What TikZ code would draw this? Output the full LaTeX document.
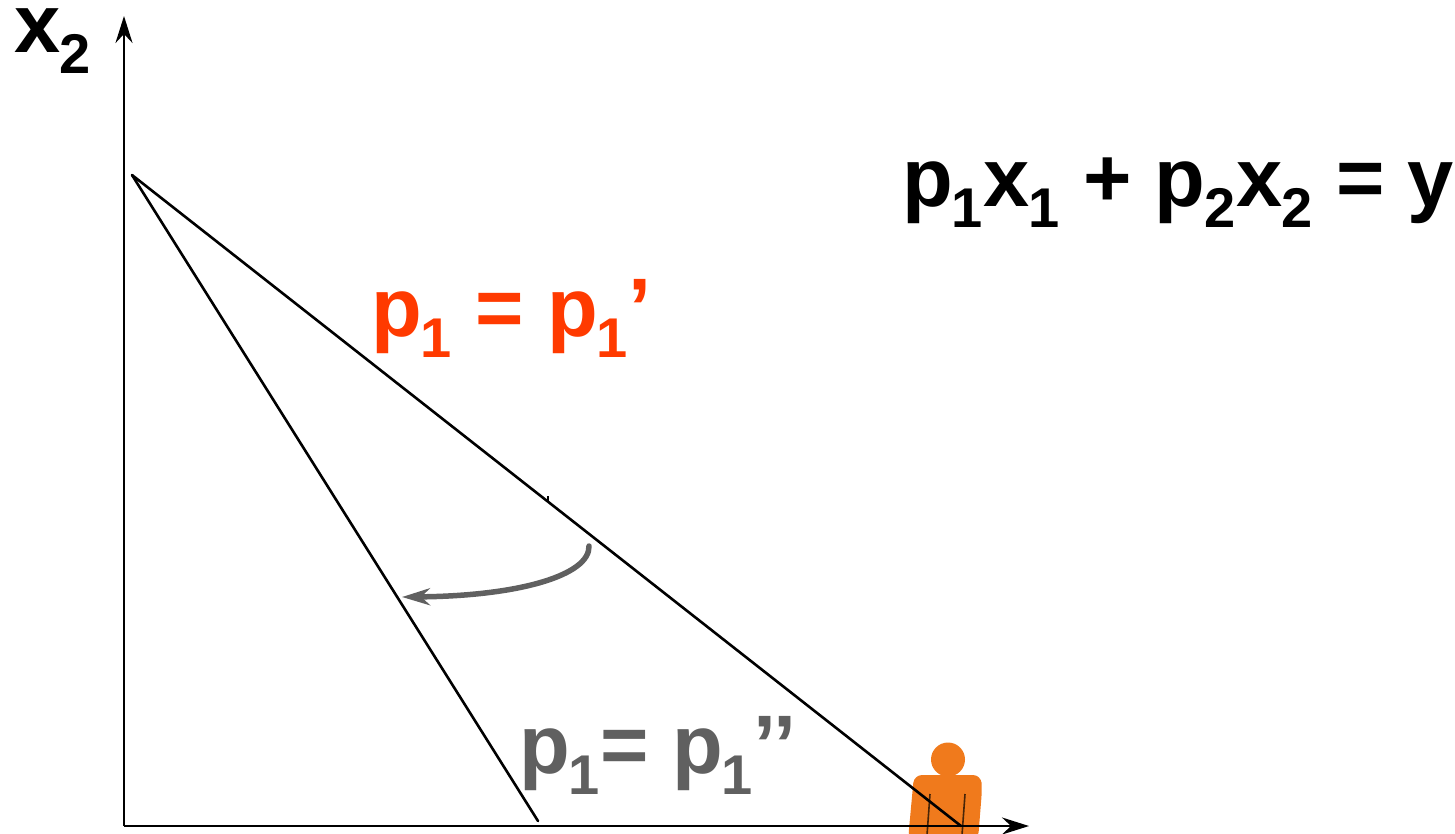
\documentclass[tikz,border=0pt]{standalone}
\usepackage{fontspec}
\setmainfont{Liberation Sans}
\usetikzlibrary{arrows.meta}
\definecolor{redorange}{RGB}{255,58,0}
\definecolor{graytxt}{RGB}{96,96,96}
\definecolor{personor}{RGB}{240,122,28}
\newcommand{\sbs}[1]{\kern-1pt\relax\raisebox{-21pt}{\fontsize{56pt}{56pt}\selectfont #1}\kern0.5pt\relax}
\tikzset{
  x=1pt,y=-1pt,
  axis/.style={line width=2.6pt,black,-{Stealth[length=27pt,width=17pt,inset=9pt]}},
  budget/.style={line width=2.6pt,black,line cap=round},
  lab/.style={font=\bfseries\fontsize{83pt}{83pt}\selectfont,inner sep=0pt,anchor=base west},
}
\begin{document}
\begin{tikzpicture}
\useasboundingbox (0,0) rectangle (1455,833);
% person
\begin{scope}
\clip (0,0) rectangle (1455,833);
\fill[personor] (948,759.5) circle (17);
\fill[personor,rounded corners=8pt] (908,840) -- (914,775) -- (981,775) -- (982,790) -- (978,840) -- cycle;
\draw[black!70!personor,line width=1.6pt] (930,794) -- (927,835);
\draw[black!70!personor,line width=1.6pt] (965,794) -- (962,835);
\end{scope}
\coordinate (origin) at (124,826);
\coordinate (ytop) at (124,16);
\coordinate (xend) at (1029,826);
\coordinate (apex) at (132,175);
\coordinate (xa) at (961,826);
\coordinate (xb) at (538,821);
\coordinate (t1) at (548,496);
\coordinate (t2) at (548,502);
\coordinate (as) at (589,546);
\coordinate (ae) at (402,597);
\draw[axis] (origin) -- (ytop);
\draw[axis] (origin) -- (xend);
\draw[budget] (apex) -- (xa);
\draw[budget] (apex) -- (xb);
\draw[line width=2.2pt] (t1) -- (t2);
\draw[graytxt,line width=5.5pt,line cap=round,-{Stealth[length=28pt,width=17pt,inset=9pt]}] (as) .. controls (590,575) and (520,596) .. (ae);
\node[lab] (xtwo) at (14,52) {x\sbs{2}};
\node[lab] (budgeteq) at (902,206) {p\sbs{1}x\sbs{1} + p\sbs{2}x\sbs{2} = y};
\node[lab,text=redorange] (pone) at (371,336) {p\sbs{1} = p\sbs{1}’};
\node[lab,text=graytxt] (ptwo) at (519,773) {p\sbs{1}= p\sbs{1}’’};
\end{tikzpicture}
\end{document}
